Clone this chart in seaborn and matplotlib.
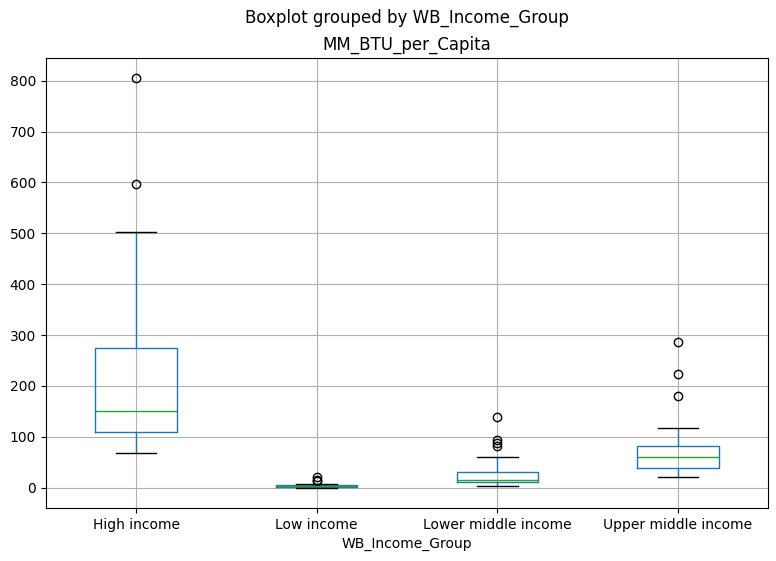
import pandas as pd
import seaborn as sns
import matplotlib.pyplot as plt

# values per income group (whisker ends, quartiles and outliers)
high_income = [68, 88, 100, 110, 128, 140, 150, 185, 230, 274, 502, 598, 805]
low_income = [0.1, 0.3, 0.5, 0.8, 1.0, 1.5, 2, 2.5, 3, 3.5, 4, 4.5, 5, 7, 12, 14, 21]
lower_middle = [4, 5.5, 6.5, 7.5, 8.5, 10, 11, 12, 13, 14, 15, 18, 21, 25, 28, 31,
                61, 81, 87, 94, 139]
upper_middle = [21.5, 26, 30, 35, 39, 44, 50, 55, 60, 65, 70, 76, 81, 117, 180, 224, 286]
groups = ["High income", "Low income", "Lower middle income", "Upper middle income"]

rows = []
for g, vals in zip(groups, [high_income, low_income, lower_middle, upper_middle]):
    for v in vals:
        rows.append({"WB_Income_Group": g, "MM_BTU_per_Capita": v})
df = pd.DataFrame(rows)

fig, ax = plt.subplots(figsize=(7.76, 5.61), dpi=100)
fig.subplots_adjust(left=0.059, right=0.99, top=0.897, bottom=0.0945)

sns.boxplot(data=df, x="WB_Income_Group", y="MM_BTU_per_Capita", order=groups,
            fill=False, color="#1f77b4", width=0.45, linewidth=1, whis=1.5,
            medianprops={"color": "#2ca02c"},
            capprops={"color": "black"},
            flierprops={"marker": "o", "markerfacecolor": "none",
                        "markeredgecolor": "black", "markersize": 6},
            ax=ax)

ax.grid(True, color="#b0b0b0", linewidth=0.8)
ax.set_axisbelow(True)
ax.set_title("MM_BTU_per_Capita")
ax.set_xlabel("WB_Income_Group")
ax.set_ylabel("")
fig.suptitle("Boxplot grouped by WB_Income_Group", x=0.5245, y=0.985)

plt.savefig("out.png", dpi=100)
